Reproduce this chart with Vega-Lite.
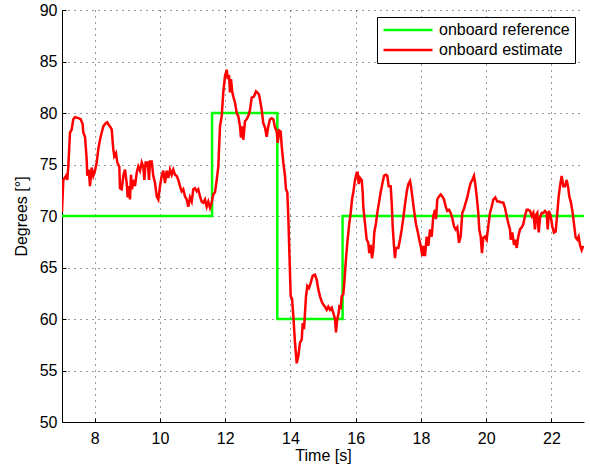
{
  "$schema": "https://vega.github.io/schema/vega-lite/v6.json",
  "width": 522,
  "height": 412,
  "autosize": {"type": "none"},
  "padding": {"left": 62, "top": 10, "right": 6, "bottom": 44},
  "background": "white",
  "config": {
    "font": "Liberation Sans",
    "view": {"stroke": null},
    "axis": {
      "labelFont": "Liberation Sans",
      "titleFont": "Liberation Sans",
      "labelFontSize": 16,
      "titleFontSize": 16,
      "titleFontWeight": "normal",
      "labelColor": "#000",
      "titleColor": "#000",
      "domainColor": "#000",
      "domainWidth": 1,
      "tickColor": "#000",
      "tickSize": -4,
      "gridColor": "#000",
      "gridOpacity": 0.8,
      "gridDash": [1, 5],
      "gridWidth": 1
    },
    "legend": {
      "labelFont": "Liberation Sans",
      "labelFontSize": 16,
      "labelColor": "#000"
    }
  },
  "datasets": {
    "reference": [
      {"t": 7.0, "deg": 70, "series": "onboard reference"},
      {"t": 11.6, "deg": 70, "series": "onboard reference"},
      {"t": 11.6, "deg": 80, "series": "onboard reference"},
      {"t": 13.6, "deg": 80, "series": "onboard reference"},
      {"t": 13.6, "deg": 60, "series": "onboard reference"},
      {"t": 15.6, "deg": 60, "series": "onboard reference"},
      {"t": 15.6, "deg": 70, "series": "onboard reference"},
      {"t": 23.0, "deg": 70, "series": "onboard reference"}
    ],
    "estimate": [
      {"t": 7.000, "deg": 70.4}, {"t": 7.040, "deg": 73.5}, {"t": 7.123, "deg": 73.9}, {"t": 7.162, "deg": 73.5},
      {"t": 7.193, "deg": 74.8}, {"t": 7.245, "deg": 78.1}, {"t": 7.297, "deg": 78.4}, {"t": 7.346, "deg": 79.4},
      {"t": 7.398, "deg": 79.6}, {"t": 7.500, "deg": 79.5}, {"t": 7.573, "deg": 79.4}, {"t": 7.634, "deg": 78.9},
      {"t": 7.653, "deg": 78.1}, {"t": 7.705, "deg": 77.7}, {"t": 7.757, "deg": 75.5}, {"t": 7.775, "deg": 73.9},
      {"t": 7.818, "deg": 74.5}, {"t": 7.858, "deg": 72.9}, {"t": 7.910, "deg": 74.7}, {"t": 7.959, "deg": 73.9},
      {"t": 8.011, "deg": 74.4}, {"t": 8.064, "deg": 75.2}, {"t": 8.113, "deg": 76.5}, {"t": 8.165, "deg": 77.4},
      {"t": 8.217, "deg": 78.1}, {"t": 8.266, "deg": 78.7}, {"t": 8.339, "deg": 79.0}, {"t": 8.388, "deg": 79.1},
      {"t": 8.419, "deg": 78.9}, {"t": 8.471, "deg": 78.7}, {"t": 8.523, "deg": 78.4}, {"t": 8.572, "deg": 76.5},
      {"t": 8.603, "deg": 75.8}, {"t": 8.655, "deg": 76.1}, {"t": 8.695, "deg": 75.2}, {"t": 8.756, "deg": 74.8},
      {"t": 8.778, "deg": 72.7}, {"t": 8.830, "deg": 72.6}, {"t": 8.879, "deg": 73.9}, {"t": 8.931, "deg": 74.5},
      {"t": 8.983, "deg": 73.2}, {"t": 9.014, "deg": 71.8}, {"t": 9.054, "deg": 72.9}, {"t": 9.084, "deg": 71.6},
      {"t": 9.115, "deg": 74.0}, {"t": 9.146, "deg": 72.6}, {"t": 9.185, "deg": 73.5}, {"t": 9.238, "deg": 72.9},
      {"t": 9.290, "deg": 74.2}, {"t": 9.339, "deg": 74.8}, {"t": 9.391, "deg": 74.4}, {"t": 9.443, "deg": 75.2},
      {"t": 9.492, "deg": 74.8}, {"t": 9.523, "deg": 73.5}, {"t": 9.566, "deg": 75.3}, {"t": 9.596, "deg": 74.8},
      {"t": 9.627, "deg": 75.3}, {"t": 9.667, "deg": 73.5}, {"t": 9.697, "deg": 75.3}, {"t": 9.749, "deg": 75.3},
      {"t": 9.798, "deg": 73.9}, {"t": 9.851, "deg": 73.2}, {"t": 9.903, "deg": 71.9}, {"t": 9.952, "deg": 71.6},
      {"t": 10.004, "deg": 72.9}, {"t": 10.056, "deg": 73.9}, {"t": 10.105, "deg": 74.4}, {"t": 10.157, "deg": 73.2},
      {"t": 10.209, "deg": 74.4}, {"t": 10.258, "deg": 73.7}, {"t": 10.310, "deg": 74.5}, {"t": 10.362, "deg": 74.0},
      {"t": 10.411, "deg": 74.5}, {"t": 10.464, "deg": 74.0}, {"t": 10.516, "deg": 73.9}, {"t": 10.565, "deg": 73.5},
      {"t": 10.617, "deg": 72.9}, {"t": 10.669, "deg": 72.4}, {"t": 10.718, "deg": 72.6}, {"t": 10.770, "deg": 71.9},
      {"t": 10.822, "deg": 71.6}, {"t": 10.871, "deg": 70.9}, {"t": 10.923, "deg": 71.8}, {"t": 10.975, "deg": 71.4},
      {"t": 11.024, "deg": 72.6}, {"t": 11.077, "deg": 72.7}, {"t": 11.129, "deg": 72.4}, {"t": 11.178, "deg": 72.6},
      {"t": 11.230, "deg": 71.9}, {"t": 11.282, "deg": 71.4}, {"t": 11.331, "deg": 71.3}, {"t": 11.383, "deg": 71.6},
      {"t": 11.435, "deg": 70.9}, {"t": 11.484, "deg": 71.4}, {"t": 11.536, "deg": 70.8}, {"t": 11.588, "deg": 71.3},
      {"t": 11.637, "deg": 72.1}, {"t": 11.690, "deg": 72.3}, {"t": 11.742, "deg": 73.5}, {"t": 11.791, "deg": 74.8},
      {"t": 11.843, "deg": 78.7}, {"t": 11.895, "deg": 79.7}, {"t": 11.944, "deg": 82.0}, {"t": 11.996, "deg": 83.6},
      {"t": 12.048, "deg": 84.2}, {"t": 12.079, "deg": 83.3}, {"t": 12.119, "deg": 83.7}, {"t": 12.149, "deg": 82.0},
      {"t": 12.180, "deg": 83.3}, {"t": 12.220, "deg": 82.0}, {"t": 12.251, "deg": 81.6}, {"t": 12.303, "deg": 81.0},
      {"t": 12.355, "deg": 80.0}, {"t": 12.404, "deg": 79.7}, {"t": 12.456, "deg": 78.7}, {"t": 12.487, "deg": 77.6},
      {"t": 12.526, "deg": 78.7}, {"t": 12.557, "deg": 77.4}, {"t": 12.609, "deg": 79.2}, {"t": 12.661, "deg": 79.4},
      {"t": 12.710, "deg": 79.7}, {"t": 12.762, "deg": 80.3}, {"t": 12.815, "deg": 81.5}, {"t": 12.885, "deg": 81.6},
      {"t": 12.946, "deg": 82.1}, {"t": 12.986, "deg": 82.0}, {"t": 13.038, "deg": 81.8}, {"t": 13.069, "deg": 81.3},
      {"t": 13.121, "deg": 80.3}, {"t": 13.170, "deg": 79.0}, {"t": 13.222, "deg": 78.6}, {"t": 13.274, "deg": 77.7},
      {"t": 13.323, "deg": 78.7}, {"t": 13.375, "deg": 79.4}, {"t": 13.428, "deg": 79.5}, {"t": 13.477, "deg": 79.4},
      {"t": 13.529, "deg": 78.6}, {"t": 13.581, "deg": 78.2}, {"t": 13.611, "deg": 77.1}, {"t": 13.660, "deg": 78.3},
      {"t": 13.703, "deg": 78.2}, {"t": 13.734, "deg": 76.8}, {"t": 13.783, "deg": 75.2}, {"t": 13.835, "deg": 73.9},
      {"t": 13.866, "deg": 72.6}, {"t": 13.906, "deg": 72.3}, {"t": 13.936, "deg": 70.0}, {"t": 13.967, "deg": 66.7},
      {"t": 14.010, "deg": 62.2}, {"t": 14.050, "deg": 62.0}, {"t": 14.090, "deg": 60.3}, {"t": 14.142, "deg": 57.7},
      {"t": 14.194, "deg": 55.7}, {"t": 14.243, "deg": 56.4}, {"t": 14.295, "deg": 57.7}, {"t": 14.347, "deg": 58.0},
      {"t": 14.378, "deg": 59.6}, {"t": 14.418, "deg": 59.0}, {"t": 14.448, "deg": 60.6}, {"t": 14.479, "deg": 62.2},
      {"t": 14.519, "deg": 63.2}, {"t": 14.571, "deg": 63.0}, {"t": 14.623, "deg": 63.5}, {"t": 14.684, "deg": 64.2},
      {"t": 14.755, "deg": 64.3}, {"t": 14.807, "deg": 63.8}, {"t": 14.856, "deg": 62.9}, {"t": 14.908, "deg": 62.2},
      {"t": 14.960, "deg": 61.7}, {"t": 15.009, "deg": 61.4}, {"t": 15.061, "deg": 61.2}, {"t": 15.113, "deg": 60.9},
      {"t": 15.162, "deg": 61.2}, {"t": 15.214, "deg": 60.9}, {"t": 15.267, "deg": 61.1}, {"t": 15.316, "deg": 60.6},
      {"t": 15.368, "deg": 60.0}, {"t": 15.398, "deg": 58.7}, {"t": 15.438, "deg": 60.0}, {"t": 15.481, "deg": 60.6},
      {"t": 15.499, "deg": 61.2}, {"t": 15.542, "deg": 61.1}, {"t": 15.573, "deg": 62.2}, {"t": 15.622, "deg": 62.4},
      {"t": 15.653, "deg": 63.5}, {"t": 15.696, "deg": 65.5}, {"t": 15.745, "deg": 67.4}, {"t": 15.806, "deg": 69.3},
      {"t": 15.849, "deg": 70.3}, {"t": 15.889, "deg": 71.6}, {"t": 15.929, "deg": 72.3}, {"t": 15.981, "deg": 73.5},
      {"t": 16.033, "deg": 74.2}, {"t": 16.064, "deg": 74.2}, {"t": 16.094, "deg": 73.1}, {"t": 16.134, "deg": 73.7},
      {"t": 16.186, "deg": 73.5}, {"t": 16.217, "deg": 72.3}, {"t": 16.235, "deg": 70.9}, {"t": 16.287, "deg": 69.3},
      {"t": 16.339, "deg": 67.7}, {"t": 16.388, "deg": 67.4}, {"t": 16.419, "deg": 66.4}, {"t": 16.462, "deg": 67.2},
      {"t": 16.502, "deg": 65.9}, {"t": 16.541, "deg": 66.7}, {"t": 16.572, "deg": 68.4}, {"t": 16.624, "deg": 69.3},
      {"t": 16.664, "deg": 70.3}, {"t": 16.716, "deg": 71.3}, {"t": 16.768, "deg": 72.3}, {"t": 16.817, "deg": 73.1},
      {"t": 16.870, "deg": 73.9}, {"t": 16.922, "deg": 74.0}, {"t": 16.971, "deg": 73.9}, {"t": 17.014, "deg": 72.9},
      {"t": 17.075, "deg": 72.9}, {"t": 17.106, "deg": 71.3}, {"t": 17.136, "deg": 69.0}, {"t": 17.176, "deg": 67.1},
      {"t": 17.207, "deg": 65.9}, {"t": 17.237, "deg": 66.9}, {"t": 17.308, "deg": 66.9}, {"t": 17.360, "deg": 67.7},
      {"t": 17.412, "deg": 68.7}, {"t": 17.461, "deg": 69.8}, {"t": 17.513, "deg": 71.1}, {"t": 17.565, "deg": 72.3},
      {"t": 17.614, "deg": 73.1}, {"t": 17.667, "deg": 73.4}, {"t": 17.697, "deg": 72.9}, {"t": 17.737, "deg": 71.9},
      {"t": 17.789, "deg": 70.6}, {"t": 17.850, "deg": 69.2}, {"t": 17.902, "deg": 68.5}, {"t": 17.952, "deg": 67.7},
      {"t": 17.994, "deg": 67.1}, {"t": 18.044, "deg": 66.1}, {"t": 18.074, "deg": 67.1}, {"t": 18.126, "deg": 66.1},
      {"t": 18.178, "deg": 68.0}, {"t": 18.228, "deg": 67.1}, {"t": 18.280, "deg": 68.7}, {"t": 18.332, "deg": 68.0},
      {"t": 18.381, "deg": 70.0}, {"t": 18.433, "deg": 70.6}, {"t": 18.464, "deg": 69.7}, {"t": 18.503, "deg": 71.6},
      {"t": 18.555, "deg": 71.9}, {"t": 18.608, "deg": 72.1}, {"t": 18.657, "deg": 71.9}, {"t": 18.709, "deg": 71.6},
      {"t": 18.761, "deg": 70.9}, {"t": 18.810, "deg": 70.5}, {"t": 18.862, "deg": 70.6}, {"t": 18.914, "deg": 70.3},
      {"t": 18.963, "deg": 69.8}, {"t": 19.015, "deg": 69.0}, {"t": 19.067, "deg": 68.7}, {"t": 19.116, "deg": 68.9},
      {"t": 19.168, "deg": 67.4}, {"t": 19.220, "deg": 68.0}, {"t": 19.269, "deg": 70.3}, {"t": 19.322, "deg": 70.7},
      {"t": 19.374, "deg": 71.3}, {"t": 19.423, "deg": 71.8}, {"t": 19.475, "deg": 72.6}, {"t": 19.527, "deg": 73.2},
      {"t": 19.576, "deg": 73.5}, {"t": 19.628, "deg": 73.9}, {"t": 19.668, "deg": 73.1}, {"t": 19.711, "deg": 71.9},
      {"t": 19.760, "deg": 70.3}, {"t": 19.790, "deg": 68.7}, {"t": 19.833, "deg": 68.0}, {"t": 19.873, "deg": 66.4},
      {"t": 19.913, "deg": 67.9}, {"t": 19.965, "deg": 68.0}, {"t": 20.017, "deg": 67.7}, {"t": 20.066, "deg": 69.0},
      {"t": 20.118, "deg": 70.3}, {"t": 20.170, "deg": 70.9}, {"t": 20.220, "deg": 71.6}, {"t": 20.281, "deg": 71.8},
      {"t": 20.342, "deg": 71.4}, {"t": 20.404, "deg": 71.4}, {"t": 20.465, "deg": 71.3}, {"t": 20.526, "deg": 71.3},
      {"t": 20.578, "deg": 70.8}, {"t": 20.630, "deg": 70.0}, {"t": 20.680, "deg": 69.3}, {"t": 20.732, "deg": 68.7},
      {"t": 20.753, "deg": 67.7}, {"t": 20.802, "deg": 68.4}, {"t": 20.854, "deg": 67.2}, {"t": 20.894, "deg": 67.7},
      {"t": 20.937, "deg": 66.9}, {"t": 20.986, "deg": 68.0}, {"t": 21.038, "deg": 68.7}, {"t": 21.090, "deg": 68.9},
      {"t": 21.139, "deg": 69.2}, {"t": 21.191, "deg": 70.0}, {"t": 21.243, "deg": 70.6}, {"t": 21.293, "deg": 70.6},
      {"t": 21.345, "deg": 70.5}, {"t": 21.397, "deg": 70.0}, {"t": 21.446, "deg": 70.3}, {"t": 21.498, "deg": 68.7},
      {"t": 21.529, "deg": 70.1}, {"t": 21.569, "deg": 70.3}, {"t": 21.611, "deg": 68.4}, {"t": 21.651, "deg": 69.8},
      {"t": 21.703, "deg": 70.3}, {"t": 21.753, "deg": 70.3}, {"t": 21.805, "deg": 70.5}, {"t": 21.857, "deg": 70.3},
      {"t": 21.887, "deg": 68.7}, {"t": 21.927, "deg": 70.5}, {"t": 21.979, "deg": 70.0}, {"t": 22.028, "deg": 69.0},
      {"t": 22.080, "deg": 68.4}, {"t": 22.132, "deg": 68.5}, {"t": 22.182, "deg": 70.3}, {"t": 22.224, "deg": 71.9},
      {"t": 22.264, "deg": 72.9}, {"t": 22.316, "deg": 73.9}, {"t": 22.365, "deg": 72.9}, {"t": 22.417, "deg": 72.9},
      {"t": 22.469, "deg": 73.5}, {"t": 22.519, "deg": 72.7}, {"t": 22.549, "deg": 71.9}, {"t": 22.601, "deg": 71.3},
      {"t": 22.653, "deg": 70.3}, {"t": 22.702, "deg": 69.0}, {"t": 22.745, "deg": 67.9}, {"t": 22.794, "deg": 67.7},
      {"t": 22.837, "deg": 68.0}, {"t": 22.877, "deg": 67.2}, {"t": 22.929, "deg": 66.7}, {"t": 22.978, "deg": 67.1}
    ]
  },
  "layer": [
    {
      "data": {"name": "reference"},
      "mark": {"type": "line", "strokeWidth": 2.5, "clip": true},
      "encoding": {
        "x": {
          "field": "t", "type": "quantitative",
          "scale": {"domain": [7, 23], "nice": false, "zero": false},
          "axis": {"title": "Time [s]", "values": [8, 10, 12, 14, 16, 18, 20, 22], "labelPadding": 12, "titlePadding": 1}
        },
        "y": {
          "field": "deg", "type": "quantitative",
          "scale": {"domain": [50, 90], "nice": false, "zero": false},
          "axis": {"title": "Degrees [°]", "values": [50, 55, 60, 65, 70, 75, 80, 85, 90], "labelPadding": 9, "titlePadding": 10}
        },
        "color": {
          "field": "series", "type": "nominal",
          "scale": {"domain": ["onboard reference", "onboard estimate"], "range": ["#00ff00", "#ff0000"]},
          "legend": {
            "title": null,
            "orient": "none",
            "legendX": 315,
            "legendY": 7,
            "strokeColor": "#000",
            "fillColor": "#fff",
            "padding": 5,
            "rowPadding": 4,
            "clipHeight": 16,
            "symbolType": "stroke",
            "symbolSize": 2400,
            "symbolStrokeWidth": 2.5,
            "labelOffset": 5
          }
        }
      }
    },
    {
      "data": {"name": "estimate"},
      "mark": {"type": "line", "strokeWidth": 2.5, "clip": true, "color": "#ff0000"},
      "encoding": {
        "x": {"field": "t", "type": "quantitative"},
        "y": {"field": "deg", "type": "quantitative"},
        "color": {"datum": "onboard estimate"}
      }
    }
  ]
}
